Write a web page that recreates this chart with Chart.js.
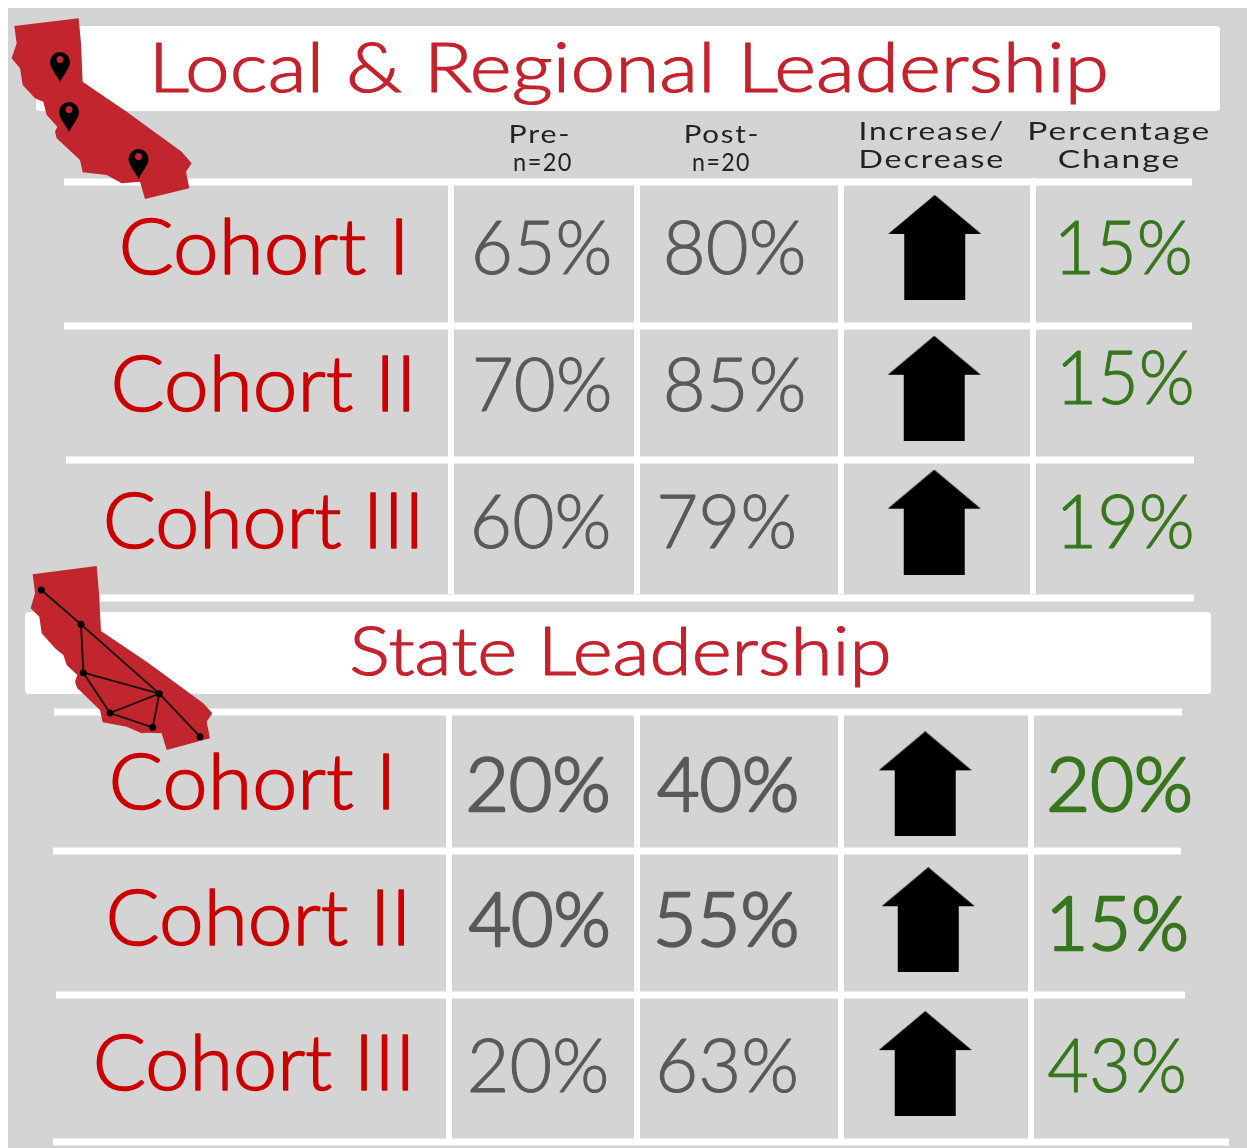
<!DOCTYPE html>
<html><head><meta charset="utf-8">
<style>html,body{margin:0;padding:0;background:#fff}canvas{display:block}</style>
<script src="https://cdn.jsdelivr.net/npm/chart.js@4/dist/chart.umd.min.js"></script>
</head><body><canvas id="c" width="1247" height="1148"></canvas>
<script>
// ---- data ----
const columns = ['Pre-', 'Post-', 'Increase/Decrease', 'Percentage Change'];
const rows = ['Local I', 'Local II', 'Local III', 'State heading', 'State I', 'State II', 'State III'];
const cohortNames = ['Cohort I', 'Cohort II', 'Cohort III'];
const localPre = [65, 70, 60];
const localPost = [80, 85, 79];
const localChange = [15, 15, 19];
const statePre = [20, 40, 20];
const statePost = [40, 55, 63];
const stateChange = [20, 15, 43];
const localDirection = ['up', 'up', 'up'];
const stateDirection = ['up', 'up', 'up'];
const localTitle = 'Local & Regional Leadership';
const stateTitle = 'State Leadership';

// ---- layout / style (separate from data) ----
const dataRows = [0, 1, 2, 4, 5, 6];
const nudge = {
  pre:   {dx:[1,1,0,-3,-3,-3],   dy:[0,1,2,-6,-7,3],  w:[134,134,134,140,140,136], lw:[1,1,1,2.4,2.4,1]},
  post:  {dx:[-1,-1,-9,-9,-9,-8],dy:[0,1,2,-6,-7,3],  w:[137,137,134,140,140,136], lw:[1,1,1,2.4,2.4,1]},
  change:{dx:[0,2,2,-5,-6,-9],   dy:[0,-6,2,-6,-3,3], w:[130,130,130,141,135,136], lw:[1,1,1,2.4,2.4,1]},
  arrow: {dx:[4.5,4,4,-5,-2,-5], dy:[-0.5,4.5,2.5,-7.5,-7.5,0.5]}
};
const FONT_L = '"Lato"';
const GREY = '#595959', GREEN = '#38761d', RED = '#cc0000', TITLE_RED = '#c5222e';
const textLayer = {pre:GREY, post:GREY, change:GREEN};
const cohortBoxes = [[122,403,274],[114,410,411],[106,418,548],[112,390,809],[109,405,945],[96,409,1090]];
const hLines = [[64,1192,182],[64,1192,326],[66,1194,460],[100,1194,598],[54,1182,712],[53,1181,851],[56,1185,995],[53,1229,1142]];
const vLines = [[451,184,594],[637,184,594],[841,184,594],[1033,178,594],[449,715,1140],[637,715,1140],[841,715,1140],[1031,715,1140]];
const headers = [
 ['Pre-',511,568,143],['n=20',514,571,171],['Post-',686,757,143],['n=20',693,749,171],
 ['Increase/',861,1003,140],['Decrease',861,1003,168],['Percentage',1030,1209,140],['Change',1059,1179,168]];
const calA = [[43,78],[236,55],[243,130],[248,245],[380,335],[545,455],[575,490],[558,515],[568,565],[435,597],[420,545],[385,548],[365,550],[320,525],[248,517],[240,480],[170,415],[165,395],[172,380],[140,345],[130,305],[105,295],[68,255],[60,205],[35,175],[50,130]];
const calB = [[98,73],[290,48],[297,130],[303,243],[440,335],[610,460],[637,490],[620,515],[630,565],[500,600],[485,550],[440,548],[425,550],[380,530],[308,517],[300,480],[232,415],[225,395],[232,375],[200,345],[190,315],[165,295],[125,250],[118,200],[92,175],[105,130]];
const pins = [[60,52],[69,102],[138.5,149]];
const netNodes = [[124,120],[243,223],[250,368],[478,431],[330,489],[458,532],[600,560]];
const netEdges = [[0,1],[1,3],[3,6],[1,2],[2,3],[2,4],[4,3],[4,5],[5,3]];

function arrowImage(){
  const c=document.createElement('canvas');c.width=93;c.height=105;
  const g=c.getContext('2d');g.fillStyle='#000';g.beginPath();
  g.moveTo(46.5,0);g.lineTo(93,39);g.lineTo(77,39);g.lineTo(77,105);g.lineTo(16,105);g.lineTo(16,39);g.lineTo(0,39);g.closePath();g.fill();
  return c;
}
function pts(col,loc,st){return dataRows.map((r,i)=>({x:col,y:rows[r],v:i<3?loc[i]:st[i-3]}));}
// draws text so its ink spans width w around cx, thickened by a stroke of lw px
function fit(ctx,text,cx,base,font,color,w,lw,spacing){
  ctx.save();ctx.font=font;ctx.textAlign='left';ctx.textBaseline='alphabetic';
  if(spacing)ctx.letterSpacing=spacing;
  const m=ctx.measureText(text);
  const ink=m.actualBoundingBoxLeft+m.actualBoundingBoxRight;
  const sx=(w-(lw||0))/ink;
  ctx.translate(cx-(w-(lw||0))/2+m.actualBoundingBoxLeft*sx,base);ctx.scale(sx,1);
  ctx.fillStyle=color;ctx.fillText(text,0,0);
  if(lw){ctx.strokeStyle=color;ctx.lineWidth=lw;ctx.lineJoin='round';ctx.strokeText(text,0,0);}
  ctx.restore();
}
function poly(ctx,p,ox,oy){ctx.beginPath();p.forEach((q,i)=>{const x=ox+q[0]/3,y=oy+q[1]/3;i?ctx.lineTo(x,y):ctx.moveTo(x,y);});ctx.closePath();}
function roundBand(ctx,x,y,w,h){ctx.fillStyle='#fff';ctx.beginPath();ctx.roundRect(x,y,w,h,4);ctx.fill();}

const tablePlugin = {
  id:'table',
  afterDatasetsUpdate(chart){
    chart.data.datasets.forEach((ds,di)=>{
      const n=nudge[ds.key];const meta=chart.getDatasetMeta(di);
      meta.data.forEach((el,i)=>{el.x+=n.dx[i];el.y+=n.dy[i];});
    });
  },
  beforeDraw(chart){
    const ctx=chart.ctx;
    ctx.save();
    ctx.fillStyle='#fff';ctx.fillRect(0,0,1247,1148);
    ctx.fillStyle='#d4d4d4';ctx.fillRect(8,8,1239,1140);
    roundBand(ctx,36,26,1184,85);
    roundBand(ctx,25,612,1186,82);
    ctx.fillStyle='#fff';
    hLines.forEach(l=>ctx.fillRect(l[0],l[2]-3.5,l[1]-l[0],7));
    vLines.forEach(l=>ctx.fillRect(l[0]-3,l[1],6,l[2]-l[1]));
    ctx.restore();
  },
  afterDatasetsDraw(chart){
    const ctx=chart.ctx;
    chart.data.datasets.forEach((ds,di)=>{
      if(!textLayer[ds.key])return;
      const meta=chart.getDatasetMeta(di);
      meta.data.forEach((el,i)=>{
        fit(ctx,ds.data[i].v+'%',el.x,el.y+26,'300 74px '+FONT_L,textLayer[ds.key],nudge[ds.key].w[i],nudge[ds.key].lw[i]);
      });
    });
    cohortBoxes.forEach((b,i)=>fit(ctx,cohortNames[i%3],(b[0]+b[1])/2,b[2],'300 77px '+FONT_L,RED,b[1]-b[0],1.5));
    fit(ctx,localTitle,631,92,'300 69px '+FONT_L,TITLE_RED,950,1.2);
    fit(ctx,stateTitle,620,675,'300 67px '+FONT_L,TITLE_RED,538,1.2);
    headers.forEach(h=>fit(ctx,h[0],(h[1]+h[2])/2,h[3],'400 25px '+FONT_L,'#222',h[2]-h[1],0,'1.5px'));
    ctx.save();
    ctx.fillStyle='#c1262e';poly(ctx,calA,0,0);ctx.fill();
    pins.forEach(p=>{
      const x=p[0],y=p[1];
      ctx.fillStyle='#000';ctx.beginPath();
      ctx.moveTo(x,y+30);
      ctx.bezierCurveTo(x-4,y+22,x-10,y+16,x-10,y+10);
      ctx.arc(x,y+10,10,Math.PI,0);
      ctx.bezierCurveTo(x+10,y+16,x+4,y+22,x,y+30);
      ctx.fill();
      ctx.fillStyle='#c1262e';ctx.beginPath();ctx.arc(x,y+7.5,3.5,0,Math.PI*2);ctx.fill();
    });
    poly(ctx,calB,0,550);ctx.fill();
    ctx.strokeStyle='#111';ctx.lineWidth=1.8;
    netEdges.forEach(e=>{
      const a=netNodes[e[0]],b=netNodes[e[1]];
      ctx.beginPath();ctx.moveTo(a[0]/3,550+a[1]/3);ctx.lineTo(b[0]/3,550+b[1]/3);ctx.stroke();
    });
    ctx.fillStyle='#000';
    netNodes.forEach(n=>{ctx.beginPath();ctx.arc(n[0]/3,550+n[1]/3,3.5,0,Math.PI*2);ctx.fill();});
    ctx.restore();
  }
};

new Chart(document.getElementById('c'),{
  type:'scatter',
  data:{datasets:[
    {key:'pre',label:columns[0],data:pts(columns[0],localPre,statePre),pointRadius:0,clip:false},
    {key:'post',label:columns[1],data:pts(columns[1],localPost,statePost),pointRadius:0,clip:false},
    {key:'arrow',label:columns[2],data:pts(columns[2],localDirection,stateDirection),pointStyle:arrowImage(),pointRadius:10,clip:false},
    {key:'change',label:columns[3],data:pts(columns[3],localChange,stateChange),pointRadius:0,clip:false}
  ]},
  options:{
    responsive:false,animation:false,
    layout:{padding:{left:444,right:25,top:180,bottom:17}},
    plugins:{legend:{display:false},tooltip:{enabled:false}},
    events:[],
    scales:{
      x:{type:'category',labels:columns,offset:true,display:false},
      y:{type:'category',labels:rows,offset:true,display:false}
    }
  },
  plugins:[tablePlugin]
});
</script></body></html>
